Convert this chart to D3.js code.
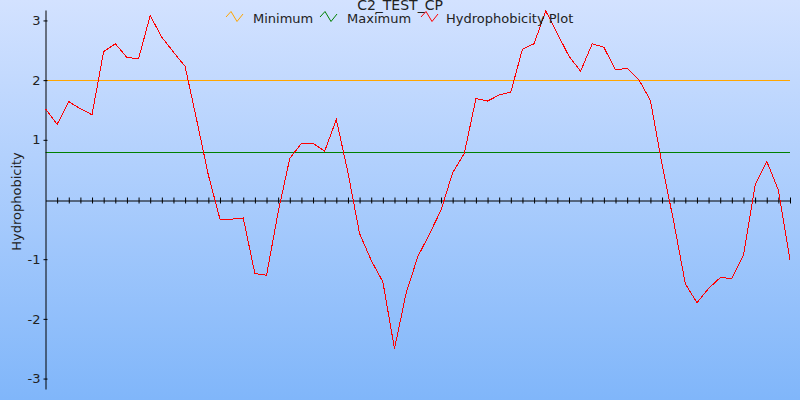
<!DOCTYPE html>
<html>
<head>
<meta charset="utf-8">
<script src="https://cdn.jsdelivr.net/npm/d3@7"></script>
<style>
  html, body { margin: 0; padding: 0; background: #fff; }
  svg { display: block; font-family: "DejaVu Sans", Verdana, sans-serif; }
</style>
</head>
<body>
<svg id="chart" width="800" height="400"></svg>
<script>
// ---- data ----
const title = "C2_TEST_CP";
const yLabel = "Hydrophobicity";
const seriesNames = ["Minimum", "Maximum", "Hydrophobicity Plot"];
const minimumValue = 2.0;
const maximumValue = 0.8;
const positions = d3.range(0, 65);
const hydrophobicity = [1.52,1.26,1.64,1.52,1.42,2.48,2.61,2.38,2.36,3.08,2.72,2.47,2.23,1.33,0.41,-0.33,-0.33,-0.31,-1.24,-1.27,-0.21,0.69,0.94,0.94,0.81,1.34,0.45,-0.57,-1.02,-1.38,-2.50,-1.57,-0.96,-0.58,-0.18,0.45,0.77,1.69,1.65,1.75,1.80,2.52,2.61,3.16,2.78,2.40,2.15,2.61,2.55,2.17,2.20,2.01,1.66,0.59,-0.37,-1.41,-1.73,-1.49,-1.31,-1.32,-0.93,0.24,0.64,0.16,-1.02];
const yTickValues = [-3, -2, -1, 1, 2, 3];
const xTickValues = d3.range(1, 65);

// ---- setup ----
const svg = d3.select("#chart");
const W = 800, H = 400;

const defs = svg.append("defs");
const grad = defs.append("linearGradient").attr("id", "bg").attr("x1", 0).attr("y1", 0).attr("x2", 0).attr("y2", 1);
grad.append("stop").attr("offset", "0%").attr("stop-color", "#d3e2ff");
grad.append("stop").attr("offset", "100%").attr("stop-color", "#80b6fa");
svg.append("rect").attr("width", W).attr("height", H).attr("fill", "url(#bg)");

const x = d3.scaleLinear().domain([0, 64]).range([45.5, 790]);
const y = d3.scaleLinear().domain([-3.175, 3.175]).range([389, 10]);

// reference lines
const refs = [{v: minimumValue, c: "#ffa500"}, {v: maximumValue, c: "#008000"}];
svg.selectAll("line.ref").data(refs).enter().append("line")
  .attr("class", "ref")
  .attr("x1", x(0)).attr("x2", x(64))
  .attr("y1", d => Math.round(y(d.v)) + 0.5).attr("y2", d => Math.round(y(d.v)) + 0.5)
  .attr("stroke", d => d.c).attr("stroke-width", 1);

// y axis
const yAxis = svg.append("g")
  .attr("transform", `translate(${x(0)},0)`)
  .call(d3.axisLeft(y).tickValues(yTickValues).tickSize(2).tickSizeOuter(0).tickPadding(3).tickFormat(d => String(d)));
yAxis.select(".domain").attr("stroke", "#000");
yAxis.selectAll(".tick line").attr("x1", 2).attr("x2", -2).attr("stroke", "#000");
yAxis.selectAll(".tick text").attr("font-size", 13).attr("fill", "#222").attr("font-family", "DejaVu Sans");

// x axis at zero
const xAxis = svg.append("g")
  .attr("transform", `translate(0,${Math.round(y(0)) + 0.5})`)
  .call(d3.axisBottom(x).tickValues(xTickValues).tickSize(3).tickSizeOuter(0).tickFormat(""));
xAxis.select(".domain").attr("stroke", "#000");
xAxis.selectAll(".tick line").attr("y1", -3).attr("y2", 3).attr("stroke", "#000");

// line
const line = d3.line().x((d, i) => x(positions[i])).y(d => y(d));
svg.append("path").datum(hydrophobicity)
  .attr("d", line).attr("fill", "none").attr("stroke", "#ff0000").attr("stroke-width", 1)
  .attr("shape-rendering", "crispEdges");

// title
svg.append("text").attr("x", 400).attr("y", 9.5).attr("text-anchor", "middle")
  .attr("font-size", 14).attr("fill", "#222").text(title);

// legend
const legendItems = [
  {name: seriesNames[0], color: "#ffa500", ix: 226, tx: 253},
  {name: seriesNames[1], color: "#008000", ix: 320, tx: 347},
  {name: seriesNames[2], color: "#ff0000", ix: 421, tx: 446}
];
const lg = svg.selectAll("g.leg").data(legendItems).enter().append("g").attr("class", "leg");
lg.append("path")
  .attr("d", d => d3.line()([[d.ix, 17], [d.ix + 5, 11.5], [d.ix + 11, 21.5], [d.ix + 17, 14]]))
  .attr("fill", "none").attr("stroke", d => d.color).attr("stroke-width", 1);
lg.append("text").attr("x", d => d.tx).attr("y", 22.5).attr("font-size", 13).attr("fill", "#222").text(d => d.name);

// y label
svg.append("text").attr("transform", `translate(20.5,${y(0) + 2}) rotate(-90)`)
  .attr("text-anchor", "middle").attr("font-size", 13).attr("fill", "#222").text(yLabel);
</script>
</body>
</html>
